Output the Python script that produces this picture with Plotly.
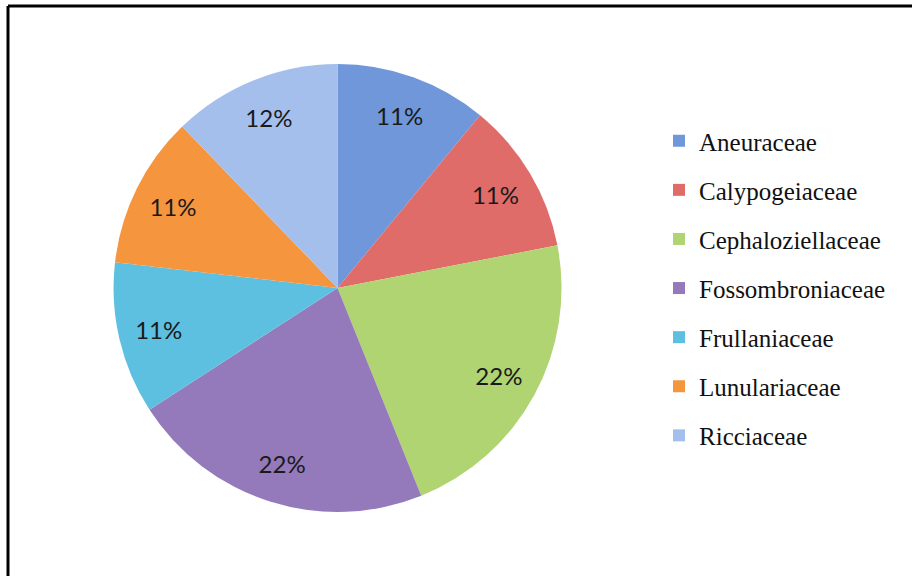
import plotly.graph_objects as go

families = ["Aneuraceae", "Calypogeiaceae", "Cephaloziellaceae", "Fossombroniaceae",
            "Frullaniaceae", "Lunulariaceae", "Ricciaceae"]
counts = [9, 9, 18, 18, 9, 9, 10]
colors = ["#6f97da", "#e06c6a", "#b0d472", "#9479bb", "#5ec0e0", "#f5963f", "#a5bfec"]

dom = dict(x=[0.1245, 0.6157], y=[0.1111, 0.8889])

fig = go.Figure()
# coloured pie
fig.add_trace(go.Pie(
    labels=families, values=counts, sort=False, direction="clockwise", rotation=0,
    marker=dict(colors=colors, line=dict(width=0)),
    textinfo="none", domain=dom, showlegend=False, hoverinfo="label+percent",
))
# transparent ring carrying the percentage labels near the rim
fig.add_trace(go.Pie(
    labels=families, values=counts, sort=False, direction="clockwise", rotation=0, hole=0.64,
    marker=dict(colors=["rgba(0,0,0,0)"] * len(families), line=dict(width=0)),
    texttemplate="%{percent:.0%}", textposition="inside", insidetextorientation="horizontal",
    textfont=dict(family="Lato", size=24, color="#1a1a1a"),
    domain=dom, showlegend=False, hoverinfo="skip",
))
for name, col in zip(families, colors):
    fig.add_trace(go.Scatter(
        x=[None], y=[None], mode="markers", name=name, legendgroup=name,
        marker=dict(symbol="square", size=12, color=col),
    ))

fig.update_layout(
    width=912, height=576,
    margin=dict(l=0, r=0, t=0, b=0),
    paper_bgcolor="white", plot_bgcolor="white",
    xaxis=dict(visible=False), yaxis=dict(visible=False),
    legend=dict(
        x=0.7226, y=1 - 118 / 576, xanchor="left", yanchor="top",
        font=dict(family="Liberation Serif", size=25, color="#111111"),
        traceorder="grouped", tracegroupgap=13.6, bgcolor="rgba(0,0,0,0)",
    ),
    shapes=[
        dict(type="line", xref="paper", yref="paper", x0=8 / 912, x1=1, y0=1 - 6 / 576, y1=1 - 6 / 576,
             line=dict(color="black", width=3)),
        dict(type="line", xref="paper", yref="paper", x0=8 / 912, x1=8 / 912, y0=0, y1=1 - 6 / 576,
             line=dict(color="black", width=3)),
    ],
)
fig.write_html("out.html", config={"displayModeBar": False},
               post_script="document.body.style.margin='0';")
